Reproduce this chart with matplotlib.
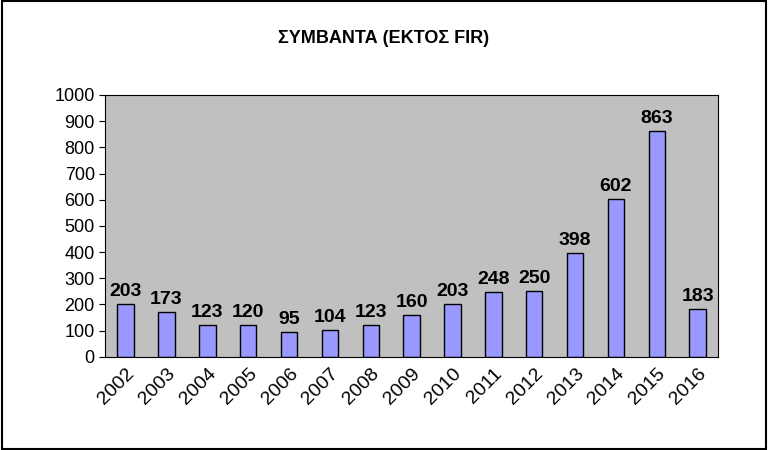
import matplotlib
matplotlib.use("Agg")
import matplotlib.pyplot as plt
from matplotlib.patches import Rectangle

years = ["2002","2003","2004","2005","2006","2007","2008","2009","2010","2011","2012","2013","2014","2015","2016"]
values = [203,173,123,120,95,104,123,160,203,248,250,398,602,863,183]

fig = plt.figure(figsize=(7.68,4.5), dpi=100)
fig.patches.append(Rectangle((0.002,0.002),0.996,0.996,transform=fig.transFigure,fill=False,edgecolor="black",linewidth=1.5))
ax = fig.add_axes([0.137,0.207,0.798,0.582])
ax.set_facecolor("#C0C0C0")
x = range(len(years))
ax.bar(x, values, width=0.4, color="#9999FF", edgecolor="black", linewidth=1)
for i,v in zip(x,values):
    ax.text(i, v+15, str(v), ha="center", va="bottom", fontsize=14, fontweight="bold", family="Liberation Sans")
ax.set_xlim(-0.5, len(years)-0.5)
ax.set_ylim(0,1000)
ax.set_yticks(range(0,1001,100))
ax.set_xticks(list(x))
ax.set_xticklabels(years, rotation=45, ha="right", rotation_mode="anchor", fontsize=14, family="Liberation Sans")
for l in ax.get_yticklabels():
    l.set_fontsize(13); l.set_family("Liberation Sans")
ax.tick_params(axis="x", length=0, pad=6)
ax.tick_params(axis="y", length=4)
for s in ax.spines.values():
    s.set_color("black")
fig.text(0.5, 0.915, "ΣΥΜΒΑΝΤΑ (ΕΚΤΟΣ FIR)", ha="center", va="center", fontsize=13, fontweight="bold", family="Liberation Sans")
fig.savefig("out.png", dpi=100)
